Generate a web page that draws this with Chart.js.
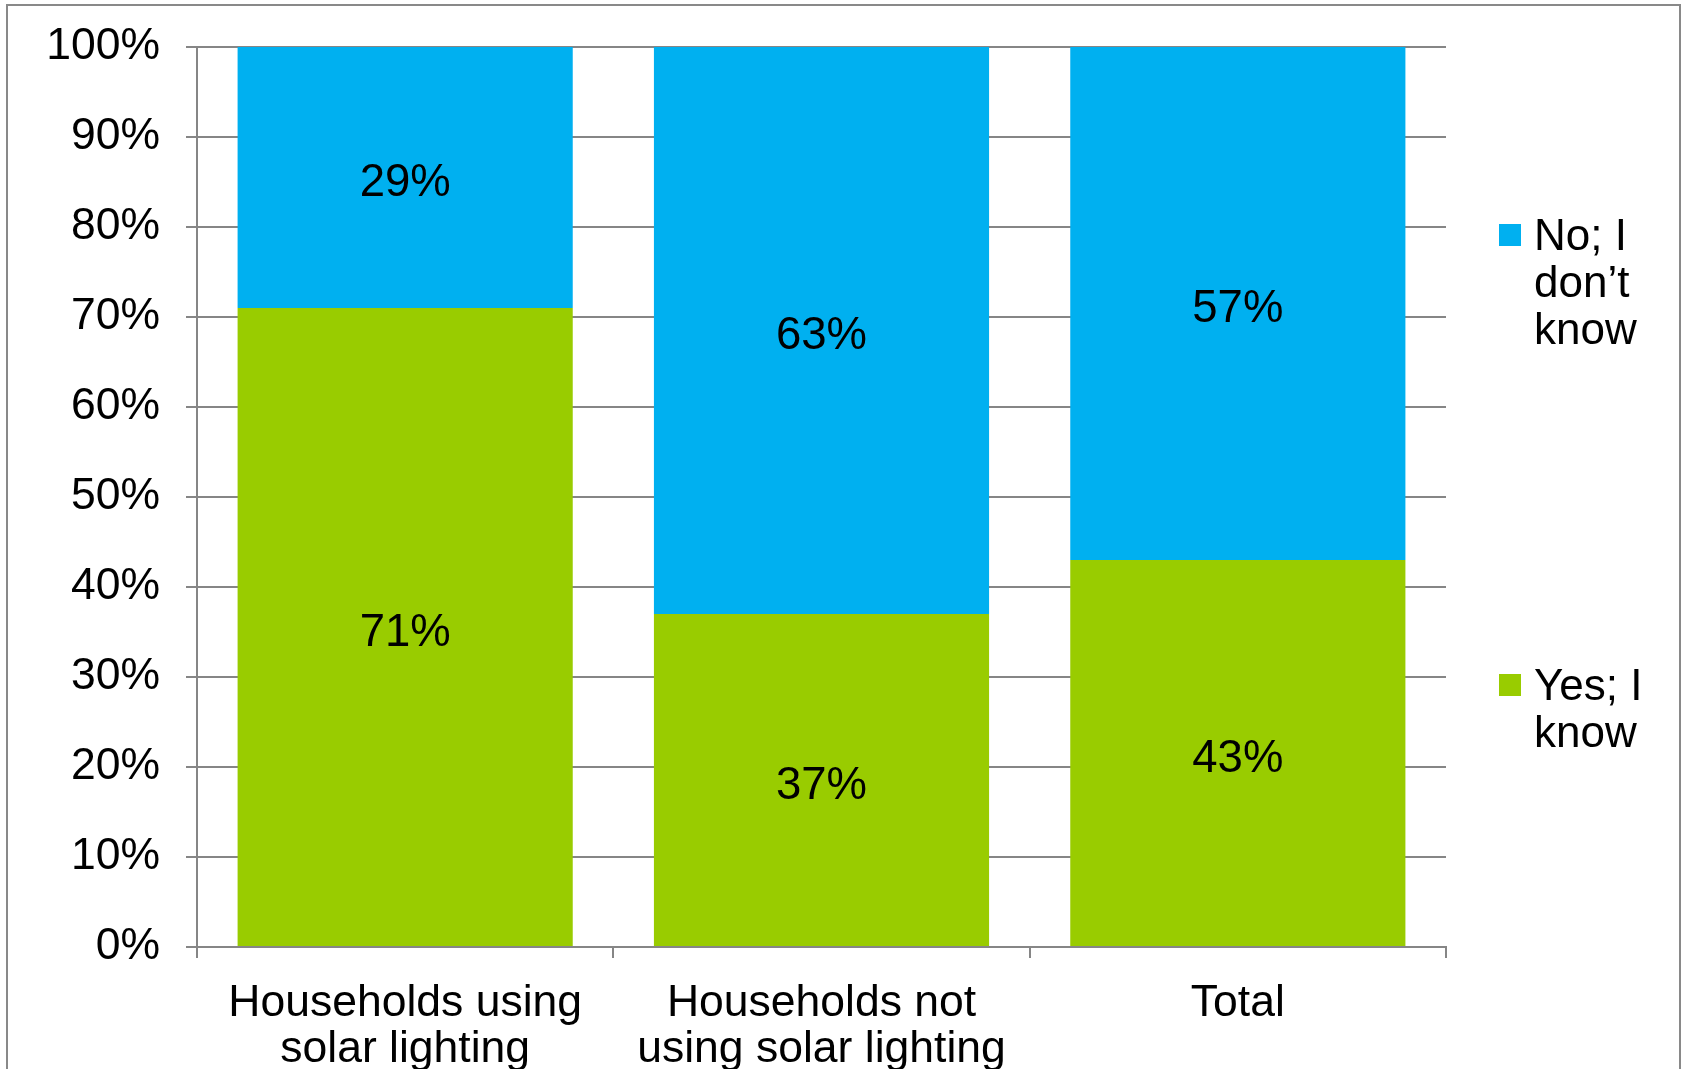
<!DOCTYPE html>
<html>
<head>
<meta charset="utf-8">
<script src="https://cdn.jsdelivr.net/npm/chart.js@4/dist/chart.umd.min.js"></script>
<style>
  html, body { margin: 0; padding: 0; background: #ffffff; }
  canvas { display: block; }
</style>
</head>
<body>
<canvas id="chart" width="1682" height="1069"></canvas>
<script>
// Categories and values (percent of households)
const categories = [
  ["Households using", "solar lighting"],
  ["Households not", "using solar lighting"],
  ["Total"]
];
const yesValues = [71, 37, 43];
const noValues = [29, 63, 57];
const seriesNames = ["Yes; I know", "No; I don’t know"];
const legendLines = [["No; I", "don’t", "know"], ["Yes; I", "know"]];

const FONT = "'Liberation Sans', Arial, Helvetica, sans-serif";
const GREEN = "#99CC00";
const BLUE = "#00B0F0";
const GREY = "#868686";

// White page with a thin grey frame round the chart
const framePlugin = {
  id: "frame",
  beforeDraw(chart) {
    const ctx = chart.ctx;
    ctx.save();
    ctx.fillStyle = "#ffffff";
    ctx.fillRect(0, 0, chart.width, chart.height);
    ctx.strokeStyle = "#898989";
    ctx.lineWidth = 2;
    ctx.strokeRect(7, 5, 1673, 1200);
    ctx.restore();
  }
};

// Percentage labels in the middle of each bar segment
const valueLabels = {
  id: "valueLabels",
  afterDatasetsDraw(chart) {
    const ctx = chart.ctx;
    ctx.save();
    ctx.font = "45.5px " + FONT;
    ctx.fillStyle = "#000000";
    ctx.textAlign = "center";
    ctx.textBaseline = "middle";
    chart.data.datasets.forEach((ds, i) => {
      const meta = chart.getDatasetMeta(i);
      meta.data.forEach((bar, j) => {
        const y = (bar.y + bar.base) / 2;
        ctx.fillText(ds.data[j] + "%", bar.x, y + 6);
      });
    });
    ctx.restore();
  }
};

// Legend on the right: "No" entry near the top, "Yes" entry lower down
const sideLegend = {
  id: "sideLegend",
  afterDraw(chart) {
    const ctx = chart.ctx;
    const area = chart.chartArea;
    const boxX = area.right + 53;
    const textX = area.right + 88;
    const entries = [
      { color: BLUE, lines: legendLines[0], y: 235 },
      { color: GREEN, lines: legendLines[1], y: 685 }
    ];
    ctx.save();
    ctx.font = "44px " + FONT;
    ctx.fillStyle = "#000000";
    ctx.textAlign = "left";
    ctx.textBaseline = "middle";
    entries.forEach(e => {
      ctx.fillStyle = e.color;
      ctx.fillRect(boxX, e.y - 11, 22, 22);
      ctx.fillStyle = "#000000";
      e.lines.forEach((line, k) => {
        ctx.fillText(line, textX, e.y + 3 + k * 47);
      });
    });
    ctx.restore();
  }
};

new Chart(document.getElementById("chart"), {
  type: "bar",
  data: {
    labels: categories,
    datasets: [
      { label: seriesNames[0], data: yesValues, backgroundColor: GREEN, borderWidth: 0 },
      { label: seriesNames[1], data: noValues, backgroundColor: BLUE, borderWidth: 0 }
    ]
  },
  options: {
    responsive: false,
    devicePixelRatio: 1,
    animation: false,
    barPercentage: 0.805,
    categoryPercentage: 1.0,
    layout: { padding: { top: 47, right: 236, left: 0, bottom: 0 } },
    plugins: {
      legend: { display: false },
      tooltip: { enabled: false }
    },
    scales: {
      x: {
        stacked: true,
        afterFit(scale) { scale.height = 122; },
        grid: {
          display: true,
          drawOnChartArea: false,
          offset: true,
          tickLength: 11,
          color: GREY,
          lineWidth: 2
        },
        border: { display: true, color: GREY, width: 2 },
        ticks: {
          font: { family: FONT, size: 44.5, lineHeight: 1.05 },
          color: "#000000",
          padding: 22,
          maxRotation: 0,
          autoSkip: false
        }
      },
      y: {
        stacked: true,
        min: 0,
        max: 100,
        afterFit(scale) {
          scale.width = 197;
          scale.paddingTop = 0;
          scale.paddingBottom = 0;
        },
        grid: {
          color: GREY,
          lineWidth: 2,
          tickLength: 11
        },
        border: { display: true, color: GREY, width: 2 },
        ticks: {
          stepSize: 10,
          font: { family: FONT, size: 44.5 },
          color: "#000000",
          padding: 26,
          callback: v => v + "%"
        }
      }
    }
  },
  plugins: [framePlugin, valueLabels, sideLegend]
});
</script>
</body>
</html>
